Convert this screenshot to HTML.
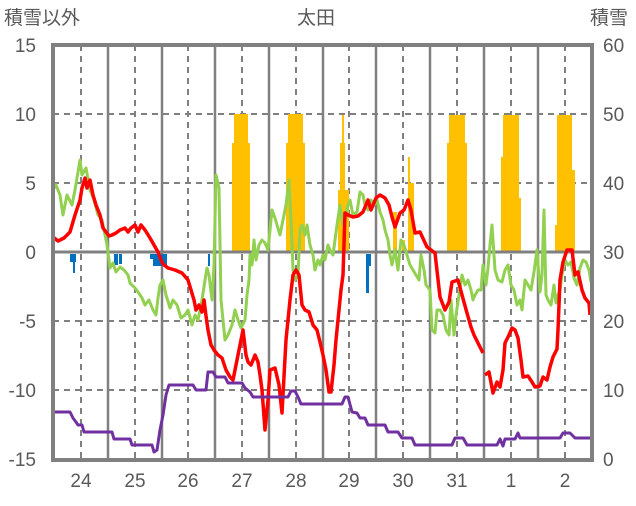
<!DOCTYPE html>
<html><head><meta charset="utf-8"><style>
body{margin:0;background:#fff;width:636px;height:501px;overflow:hidden}
svg text{font-family:"Liberation Sans","Noto Sans CJK JP",sans-serif;fill:#595959;font-size:19px}
</style></head><body>
<svg width="636" height="501" viewBox="0 0 636 501" xmlns="http://www.w3.org/2000/svg">
<text x="4" y="24" font-size="18">積雪以外</text>
<text x="316" y="24" text-anchor="middle" font-size="18">太田</text>
<text x="590" y="24" font-size="18">積雪</text>
<g text-anchor="end">
<text x="36" y="52">15</text><text x="36" y="121">10</text><text x="36" y="190">5</text><text x="36" y="259">0</text><text x="36" y="328">-5</text><text x="36" y="397">-10</text><text x="36" y="466">-15</text>
</g>
<g text-anchor="start">
<text x="603" y="52">60</text><text x="603" y="121">50</text><text x="603" y="190">40</text><text x="603" y="259">30</text><text x="603" y="328">20</text><text x="603" y="397">10</text><text x="603" y="466">0</text>
</g>
<g text-anchor="middle">
<text x="81" y="487">24</text><text x="135" y="487">25</text><text x="188" y="487">26</text><text x="242" y="487">27</text><text x="296" y="487">28</text><text x="349" y="487">29</text><text x="403" y="487">30</text><text x="457" y="487">31</text><text x="511" y="487">1</text><text x="565" y="487">2</text>
</g>
<!-- grid -->
<g stroke="#808080" stroke-width="2" stroke-dasharray="6,5">
<line x1="53" y1="114" x2="592" y2="114"/><line x1="53" y1="183" x2="592" y2="183"/><line x1="53" y1="321" x2="592" y2="321"/><line x1="53" y1="390" x2="592" y2="390"/>
<line x1="81" y1="45" x2="81" y2="460"/><line x1="135" y1="45" x2="135" y2="460"/><line x1="188" y1="45" x2="188" y2="460"/><line x1="242" y1="45" x2="242" y2="460"/><line x1="296" y1="45" x2="296" y2="460"/><line x1="349" y1="45" x2="349" y2="460"/><line x1="403" y1="45" x2="403" y2="460"/><line x1="457" y1="45" x2="457" y2="460"/><line x1="511" y1="45" x2="511" y2="460"/><line x1="565" y1="45" x2="565" y2="460"/>
</g>
<g stroke="#808080" stroke-width="2.5">
<line x1="108" y1="45" x2="108" y2="460"/><line x1="162" y1="45" x2="162" y2="460"/><line x1="215" y1="45" x2="215" y2="460"/><line x1="269" y1="45" x2="269" y2="460"/><line x1="323" y1="45" x2="323" y2="460"/><line x1="376" y1="45" x2="376" y2="460"/><line x1="430" y1="45" x2="430" y2="460"/><line x1="484" y1="45" x2="484" y2="460"/><line x1="538" y1="45" x2="538" y2="460"/>
</g>
<!-- snow bars -->
<g fill="#FFC000">
<rect x="232" y="143" width="18" height="109"/><rect x="234" y="114" width="14" height="30"/>
<rect x="286" y="143" width="19" height="109"/><rect x="288" y="114" width="15" height="30"/>
<rect x="338" y="190" width="11" height="62"/><rect x="340" y="143" width="5" height="50"/><rect x="342" y="115" width="2" height="30"/>
<rect x="393" y="212" width="4" height="40"/><rect x="402" y="240" width="3" height="12"/><rect x="408" y="157" width="2" height="95"/><rect x="410" y="183" width="4" height="69"/>
<rect x="449" y="115" width="16" height="137"/><rect x="447" y="143" width="20" height="109"/>
<rect x="503" y="115" width="16" height="137"/><rect x="501" y="157" width="2" height="95"/><rect x="519" y="198" width="2" height="54"/>
<rect x="557" y="115" width="15" height="137"/><rect x="555" y="225" width="2" height="27"/><rect x="572" y="170" width="3" height="82"/>
</g>
<!-- blue bars -->
<g fill="#0070C0">
<rect x="70" y="254" width="6" height="8"/><rect x="73" y="254" width="2" height="19"/>
<rect x="114" y="254" width="4" height="11"/><rect x="119" y="254" width="3" height="10"/>
<rect x="150" y="254" width="3" height="5"/><rect x="153" y="254" width="14" height="12"/>
<rect x="208" y="254" width="2" height="12"/>
<rect x="366" y="254" width="3" height="39"/><rect x="366" y="254" width="5" height="12"/>
</g>
<line x1="53" y1="252" x2="592" y2="252" stroke="#808080" stroke-width="3"/>
<g fill="none" stroke-width="3" stroke-linejoin="round">
<polyline stroke="#92D050" points="53,190 56,185 60,195 63,215 67,195 72,205 75,190 78,172 80,160 82,175 86,168 90,190 94,200 98,215 102,220 105,235 107,245 110,268 113,263 116,272 120,267 124,270 128,275 130,283 135,288 138,292 142,298 145,305 149,300 153,310 156,315 158,298 160,285 163,280 166,295 170,308 173,300 177,305 181,318 185,315 188,310 192,325 195,315 198,320 200,310 202,300 205,280 207,268 209,275 212,300 214,265 216,175 219,188 221,300 225,340 228,335 232,325 235,310 238,320 241,328 245,320 247,295 249,280 250,255 252,265 254,240 256,260 259,245 262,240 265,243 268,250 270,230 272,210 275,218 277,225 280,235 283,220 286,205 289,180 291,220 293,270 295,280 298,275 300,230 302,225 305,235 307,225 310,245 313,255 315,270 318,260 320,265 323,255 325,260 328,245 330,250 333,255 335,240 337,225 340,205 343,225 345,220 348,205 350,200 353,215 357,212 360,192 363,195 365,205 368,210 371,200 374,205 377,200 380,212 383,220 385,230 388,240 390,255 392,265 395,250 398,270 401,240 404,245 407,255 410,265 413,270 416,275 419,280 421,255 424,270 426,285 430,290 432,330 435,333 437,310 440,310 443,315 446,330 449,335 451,300 454,335 456,315 459,295 462,275 465,285 468,280 471,290 473,300 475,295 478,290 481,290 483,265 486,285 488,268 490,245 492,225 495,270 498,280 502,282 505,270 508,265 511,285 514,290 517,305 520,300 522,310 525,280 528,285 531,290 534,272 537,250 540,292 542,275 544,210 546,295 548,300 551,305 554,285 556,303 558,295 560,290 562,275 565,260 568,265 571,262 574,278 577,285 580,268 583,260 586,262 589,270 591,282"/>
<polyline stroke="#FF0000" stroke-width="3.5" points="53,237 58,241 64,238 70,232 75,215 80,200 82,188 85,178 87,188 90,180 93,195 96,205 100,215 103,228 106,232 109,236 112,235 116,233 120,230 125,228 128,232 131,228 135,225 138,232 141,225 145,230 150,238 154,245 158,252 161,260 163,264 168,268 175,270 182,273 188,280 191,290 194,300 196,310 199,305 202,312 204,300 206,316 208,330 211,345 214,350 218,355 222,358 226,370 230,377 233,380 236,365 240,345 243,330 246,355 248,362 251,365 255,355 258,362 260,375 262,390 265,430 268,400 270,370 275,368 279,385 282,413 286,340 290,300 293,275 296,270 299,275 302,305 305,310 309,312 313,325 317,330 320,342 323,355 326,370 329,392 331,392 334,365 336,340 338,320 341,290 343,275 345,213 348,215 353,217 358,216 363,212 368,200 371,210 376,198 380,195 385,198 389,205 392,217 395,227 400,213 404,210 408,200 411,210 415,233 420,232 427,247 435,253 440,297 445,310 449,302 452,282 458,280 462,295 467,313 471,327 474,335 478,343 483,353"/>
<polyline stroke="#FF0000" stroke-width="3.5" points="485,375 489,372 493,393 497,382 500,387 503,370 505,343 509,335 512,328 515,330 518,338 521,360 523,377 528,376 532,382 535,387 540,386 543,377 547,380 550,367 553,357 557,349 558,330 560,280 563,262 567,250 572,250 575,275 578,272 582,290 585,298 589,303 590,315"/>
<polyline stroke="#7030A0" points="53,412 70,412 73,418 76,422 78,425 82,425 84,432 112,432 114,439 130,439 132,445 152,445 154,452 157,450 160,430 163,415 166,395 169,385 193,385 196,390 206,390 208,372 213,372 216,377 225,377 228,383 242,383 245,388 250,392 253,397 288,397 291,391 295,391 298,397 301,404 342,404 345,397 348,397 352,412 357,413 360,418 365,418 368,425 385,425 388,432 398,432 402,438 412,438 415,445 452,445 455,438 463,438 467,445 497,445 500,439 503,446 505,439 515,439 518,433 520,438 560,438 563,433 570,433 575,438 590,438"/>
</g>
<rect x="53" y="45" width="539" height="415" fill="none" stroke="#808080" stroke-width="4"/>
</svg>
</body></html>
